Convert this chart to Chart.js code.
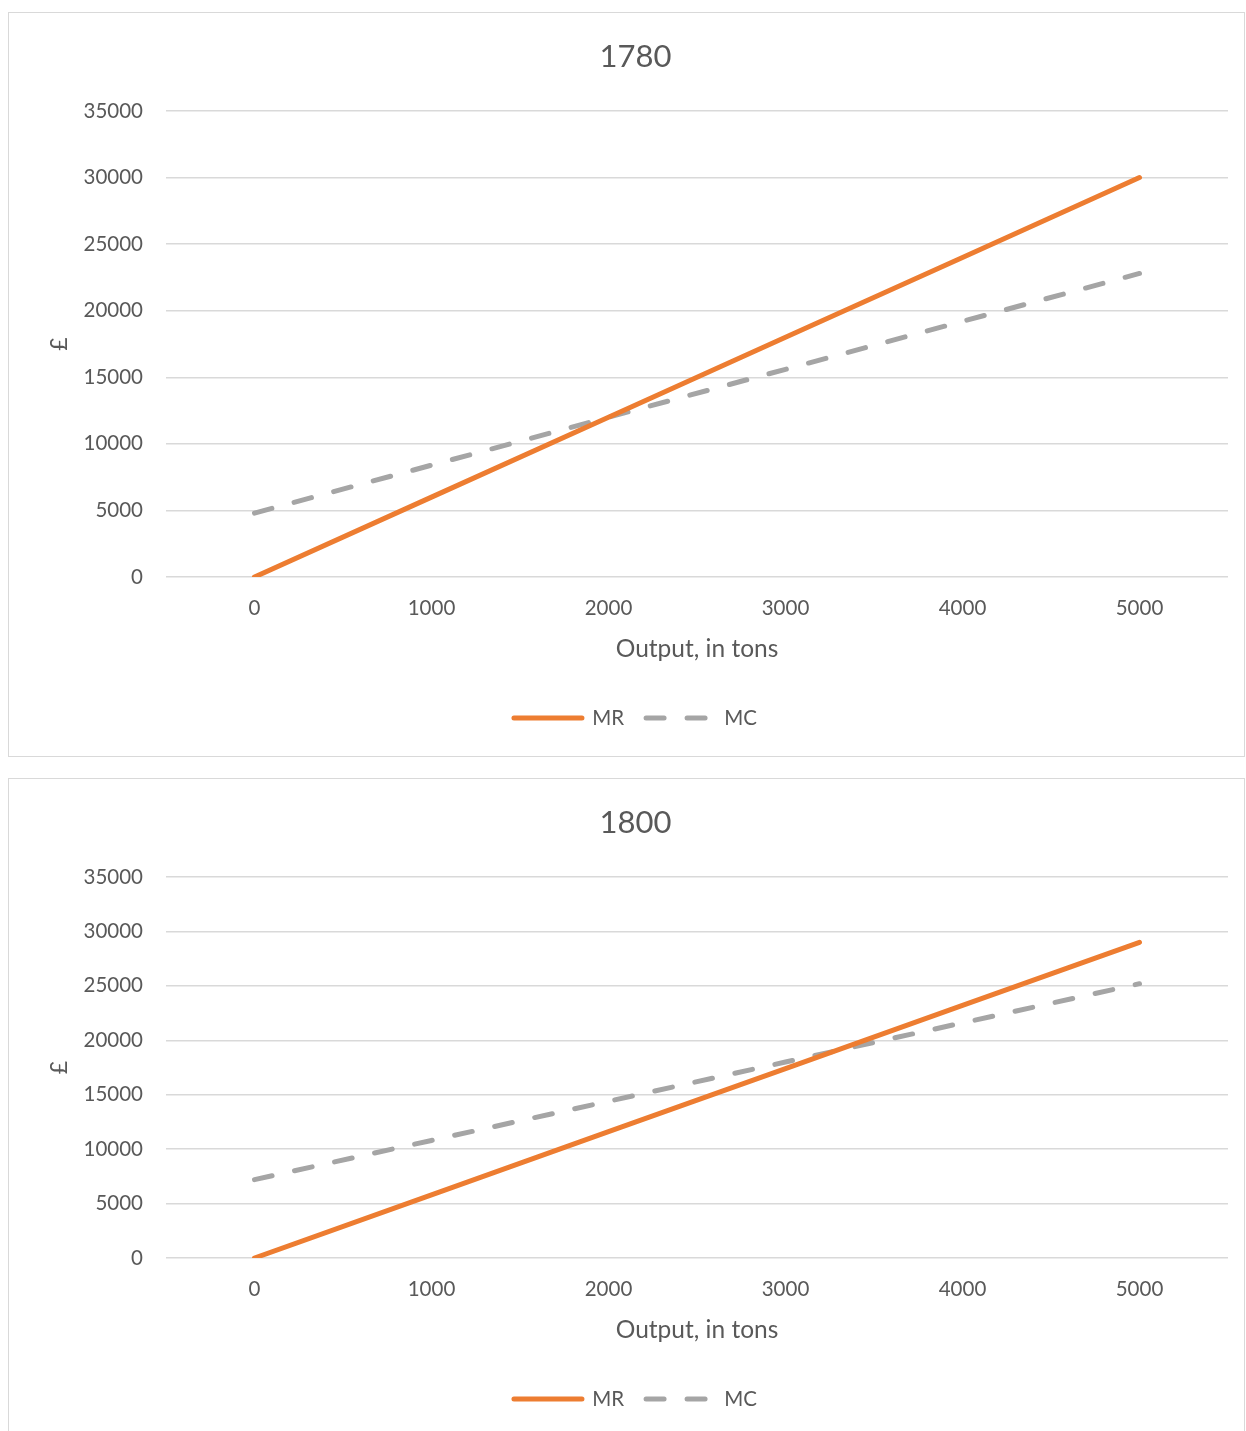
<!DOCTYPE html>
<html>
<head>
<meta charset="utf-8">
<title>MR and MC, 1780 and 1800</title>
<script src="https://cdn.jsdelivr.net/npm/chart.js@4/dist/chart.umd.min.js"></script>
<style>
    html, body {
        margin: 0;
        padding: 0;
        background: #ffffff;
        width: 1246px;
        height: 1431px;
        overflow: hidden;
    }
    .chartBox {
        position: absolute;
        left: 8px;
        width: 1235px;
        border: 1px solid #d9d9d9;
        background: #ffffff;
    }
    #box1780 { top: 12px; height: 743px; }
    #box1800 { top: 778px; height: 658px; }
    canvas { display: block; }
</style>
</head>
<body>

<div class="chartBox" id="box1780"><canvas id="chart1780" width="1235" height="743"></canvas></div>
<div class="chartBox" id="box1800"><canvas id="chart1800" width="1235" height="658"></canvas></div>

<script>
// output levels (tons) on the category axis
var outputTons = ["0", "1000", "2000", "3000", "4000", "5000"];

// 1780
var mr1780 = [0, 6000, 12000, 18000, 24000, 30000];
var mc1780 = [4800, 8400, 12000, 15600, 19200, 22800];

// 1800
var mr1800 = [0, 5800, 11600, 17400, 23200, 29000];
var mc1800 = [7200, 10800, 14400, 18000, 21600, 25200];

// value axis
var yMin = 0;
var yMax = 35000;
var yStep = 5000;

var textColor = '#595959';
var gridColor = '#d9d9d9';
var mrColor = '#ED7D31';
var mcColor = '#A5A5A5';
var mcDash = [18, 23];

Chart.defaults.font.family = 'Lato, "Open Sans", sans-serif';
Chart.defaults.color = textColor;


function legendItems(chart) {
    return chart.data.datasets.map(function (ds, i) {
        return {
            text: ds.label,
            fillStyle: ds.borderColor,
            strokeStyle: ds.borderColor,
            fontColor: textColor,
            lineWidth: 5,
            lineCap: 'round',
            lineDash: ds.borderDash || [],
            pointStyle: 'line',
            hidden: false,
            datasetIndex: i
        };
    });
}


function makeChart(canvasId, year, mr, mc, plotBottom, canvasHeight) {
    var ctx = document.getElementById(canvasId);

    // room under the plot: x axis, then legend, then padding
    var padLeft = 34;
    var legendHeight = 52.5;
    var bottomPad = 17.75;
    var xAxisHeight = canvasHeight - bottomPad - legendHeight - plotBottom;

    var dataMR = {
        label: "MR",
        data: mr,
        borderColor: mrColor,
        backgroundColor: mrColor,
        borderWidth: 5,
        borderCapStyle: 'round',
        pointRadius: 0,
        pointHoverRadius: 0,
        tension: 0,
        fill: false
    };

    var dataMC = {
        label: "MC",
        data: mc,
        borderColor: mcColor,
        backgroundColor: mcColor,
        borderWidth: 5,
        borderDash: mcDash,
        borderCapStyle: 'round',
        pointRadius: 0,
        pointHoverRadius: 0,
        tension: 0,
        fill: false
    };

    return new Chart(ctx, {
        type: 'line',
        data: {
            labels: outputTons,
            datasets: [dataMR, dataMC]
        },
        options: {
            responsive: false,
            animation: false,
            events: [],
            layout: {
                padding: {top: 0, left: padLeft, right: 16, bottom: bottomPad}
            },
            plugins: {
                title: {
                    display: true,
                    text: year,
                    color: textColor,
                    font: {size: 31, weight: 'normal'},
                    padding: {top: 25, bottom: 98 - 25 - 31 * 1.2}
                },
                legend: {
                    display: true,
                    position: 'bottom',
                    labels: {
                        usePointStyle: true,
                        pointStyle: 'line',
                        pointStyleWidth: 68,
                        boxWidth: 68,
                        padding: 22,
                        color: textColor,
                        font: {size: 20.5},
                        generateLabels: legendItems
                    }
                },
                tooltip: {enabled: false}
            },
            scales: {
                x: {
                    type: 'category',
                    offset: true,
                    grid: {display: false, drawTicks: false},
                    border: {display: false},
                    ticks: {
                        color: textColor,
                        font: {size: 20.5},
                        padding: 19,
                        maxRotation: 0
                    },
                    title: {
                        display: true,
                        text: 'Output, in tons',
                        color: textColor,
                        font: {size: 24.5},
                        padding: {top: 0, bottom: 22}
                    },
                    afterFit: function (scale) {
                        scale.height = xAxisHeight;
                    }
                },
                y: {
                    min: yMin,
                    max: yMax,
                    grid: {
                        color: gridColor,
                        lineWidth: 1.5,
                        drawTicks: false
                    },
                    border: {display: false},
                    ticks: {
                        stepSize: yStep,
                        color: textColor,
                        font: {size: 20.5},
                        padding: 23,
                        callback: function (v) {
                            return String(v);
                        }
                    },
                    title: {
                        display: true,
                        text: '£',
                        color: textColor,
                        font: {size: 23},
                        padding: {top: 3, bottom: 0}
                    },
                    afterFit: function (scale) {
                        scale.width = 157 - padLeft;
                    }
                }
            }
        }
    });
}


function initEvents() {
    makeChart("chart1780", "1780", mr1780, mc1780, 564, 743);
    makeChart("chart1800", "1800", mr1800, mc1800, 479, 658);
}


document.addEventListener('DOMContentLoaded', initEvents);
</script>
</body>
</html>
